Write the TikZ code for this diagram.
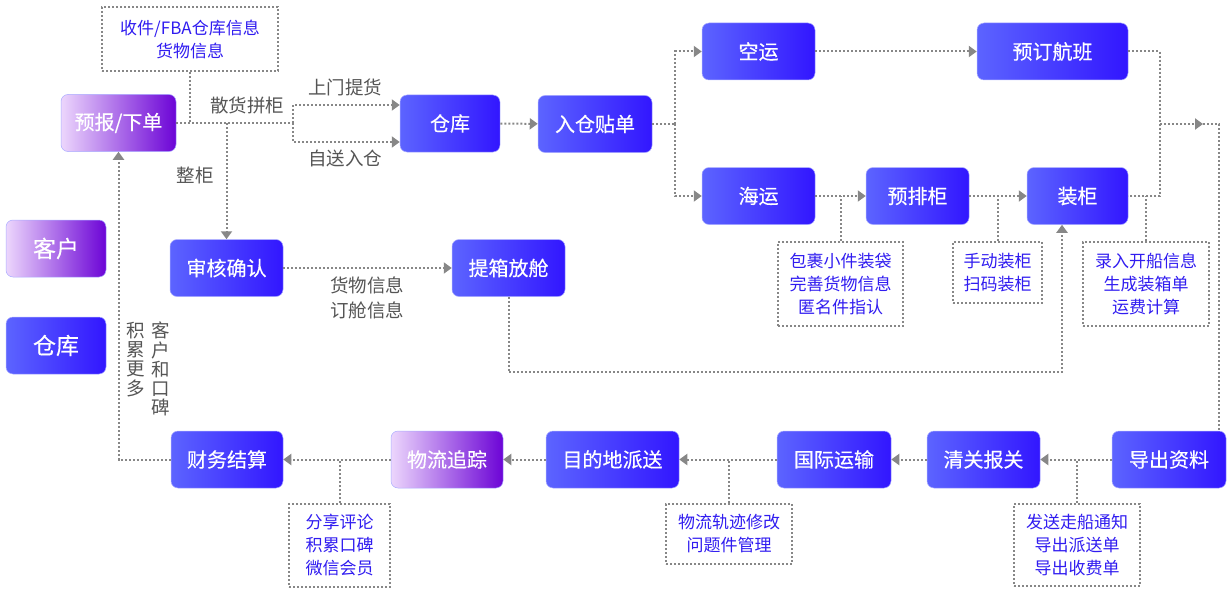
\documentclass[tikz,border=0pt]{standalone}
\usepackage{fontspec}
\newfontfamily\cjk{Noto Sans CJK SC}
\newfontfamily\cjkm[FakeBold=0.35]{Noto Sans CJK SC}
\usetikzlibrary{arrows.meta}
\definecolor{bL}{RGB}{92,100,255}
\definecolor{bR}{RGB}{50,22,255}
\definecolor{pL}{RGB}{236,214,252}
\definecolor{pR}{RGB}{108,4,214}
\definecolor{edgeC}{RGB}{170,172,255}
\definecolor{lineC}{RGB}{135,135,135}
\definecolor{noteC}{RGB}{48,28,240}
\definecolor{grayT}{RGB}{85,85,85}
\tikzset{
  boxbase/.style={rounded corners=7pt, draw=edgeC, line width=0.5pt, text=white,
    inner sep=0pt, minimum height=57pt, font=\cjkm\fontsize{20}{24}\selectfont},
  bbox/.style={boxbase, left color=bL, right color=bR},
  pbox/.style={boxbase, left color=pL, right color=pR},
  legend/.style={font=\cjkm\fontsize{23}{26}\selectfont, minimum width=100pt},
  note/.style={draw=lineC, line width=2pt, dash pattern=on 2pt off 2pt, text=noteC,
    align=center, inner sep=0pt, font=\cjk\fontsize{17}{23}\selectfont},
  glabel/.style={text=grayT, inner sep=0pt, align=center, font=\cjk\fontsize{18.5}{25}\selectfont},
  vlabel/.style={text=grayT, inner sep=0pt, align=center, anchor=north, font=\cjk\fontsize{18.5}{19.2}\selectfont},
  conn/.style={draw=lineC, line width=2pt, dash pattern=on 2pt off 2pt},
  arr/.style={conn, -{Triangle[length=8pt,width=11pt]}}
}
\begin{document}
\begin{tikzpicture}[x=1pt,y=-1pt]
\useasboundingbox (0,0) rectangle (1230,591);

% legend
\node[pbox, legend, minimum height=57pt] (lgk) at (56,248.5) {客户};
\node[bbox, legend, minimum height=57pt] (lgc) at (56,345.5) {仓库};

% main boxes
\node[pbox, minimum width=115pt] (order) at (118.5,123) {预报/下单};
\node[bbox, minimum width=100pt] (cangku) at (450,123.5) {仓库};
\node[bbox, minimum width=114pt] (rucang) at (595,124) {入仓贴单};
\node[bbox, minimum width=113pt] (kongyun) at (758.5,51.5) {空运};
\node[bbox, minimum width=113pt] (haiyun) at (758.5,196) {海运};
\node[bbox, minimum width=151pt] (yuding) at (1052.5,51.5) {预订航班};
\node[bbox, minimum width=103pt] (yupai) at (917.5,196) {预排柜};
\node[bbox, minimum width=101pt] (zhuang) at (1077.5,196) {装柜};
\node[bbox, minimum width=113pt] (shenhe) at (226.5,268) {审核确认};
\node[bbox, minimum width=113pt] (tixiang) at (508.5,268) {提箱放舱};

\node[bbox, minimum width=112pt] (caiwu) at (227,459.5) {财务结算};
\node[pbox, minimum width=112pt] (wuliu) at (447,459.5) {物流追踪};
\node[bbox, minimum width=133pt] (mudi) at (612.5,459.5) {目的地派送};
\node[bbox, minimum width=114pt] (guoji) at (834,459.5) {国际运输};
\node[bbox, minimum width=113pt] (qingguan) at (983.5,459.5) {清关报关};
\node[bbox, minimum width=114pt] (daochu) at (1169,459.5) {导出资料};

% notes
\node[note, minimum width=176pt, minimum height=64pt] (n1) at (190,39) {收件/FBA仓库信息\\货物信息};
\node[note, minimum width=125pt, minimum height=84pt] (n2) at (840.5,284) {包裹小件装袋\\完善货物信息\\匿名件指认};
\node[note, minimum width=89pt, minimum height=61pt] (n3) at (997.5,272.5) {手动装柜\\扫码装柜};
\node[note, minimum width=126pt, minimum height=84pt] (n4) at (1146,284) {录入开船信息\\生成装箱单\\运费计算};
\node[note, minimum width=101pt, minimum height=83pt] (n5) at (339.5,545.5) {分享评论\\积累口碑\\微信会员};
\node[note, minimum width=126pt, minimum height=60pt] (n6) at (729,534) {物流轨迹修改\\问题件管理};
\node[note, minimum width=126pt, minimum height=82pt] (n7) at (1077,545) {发送走船通知\\导出派送单\\导出收费单};

% gray labels
\node[glabel] (l1) at (247,105) {散货拼柜};
\node[glabel] (l2) at (345,87) {上门提货};
\node[glabel] (l3) at (345,158) {自送入仓};
\node[glabel] (l4) at (195,175) {整柜};
\node[glabel] (l5) at (367,297.5) {货物信息\\订舱信息};
\node[vlabel] (l6) at (136,322) {积\\累\\更\\多};
\node[vlabel] (l7) at (161,322) {客\\户\\和\\口\\碑};

% coordinates
\coordinate (sp) at (293,123);
\coordinate (zg) at (226.5,123);
\coordinate (rs) at (675,124);
\coordinate (vr) at (1160,196);
\coordinate (rt) at (1160,124);
\coordinate (ah) at (1203,124);
\coordinate (rr) at (1219,124);
\coordinate (bt) at (508.5,372);

% top flow
\draw[conn] (order.east) -- (sp);
\draw[conn] (n1.south) -- (n1.south |- order.east);
\draw[arr] (sp) |- ([yshift=18.5pt]cangku.west);
\draw[arr] (sp) |- ([yshift=-18.5pt]cangku.west);
\draw[arr] (zg) -- (shenhe.north);
\draw[arr] (cangku) -- (rucang);
\draw[conn] (rucang.east) -- (rs);
\draw[arr] (rs) |- (kongyun.west);
\draw[arr] (rs) |- (haiyun.west);
\draw[arr] (kongyun) -- (yuding);
\draw[arr] (haiyun) -- (yupai);
\draw[conn] (n2.north) -- (n2.north |- haiyun.east);
\draw[arr] (yupai) -- (zhuang);
\draw[conn] (n3.north) -- (n3.north |- yupai.east);
\draw[conn] (yuding.east) -| (vr) -- (zhuang.east);
\draw[conn] (n4.north) -- (n4.north |- zhuang.east);
\draw[arr] (rt) -- (ah);
\draw[conn] (ah) -- (rr) -- (rr |- daochu.north);
\draw[arr] (shenhe) -- (tixiang);
\draw[arr] (tixiang.south) -- (bt) -| ([xshift=-15.5pt]zhuang.south);

% bottom flow
\draw[arr] (daochu) -- (qingguan);
\draw[conn] (n7.north) -- (n7.north |- daochu.west);
\draw[arr] (qingguan) -- (guoji);
\draw[arr] (guoji) -- (mudi);
\draw[conn] (n6.north) -- (n6.north |- guoji.west);
\draw[arr] (mudi) -- (wuliu);
\draw[arr] (wuliu) -- (caiwu);
\draw[conn] (n5.north) -- (n5.north |- wuliu.west);
\draw[arr] (caiwu.west) -| (order.south);
\end{tikzpicture}
\end{document}
